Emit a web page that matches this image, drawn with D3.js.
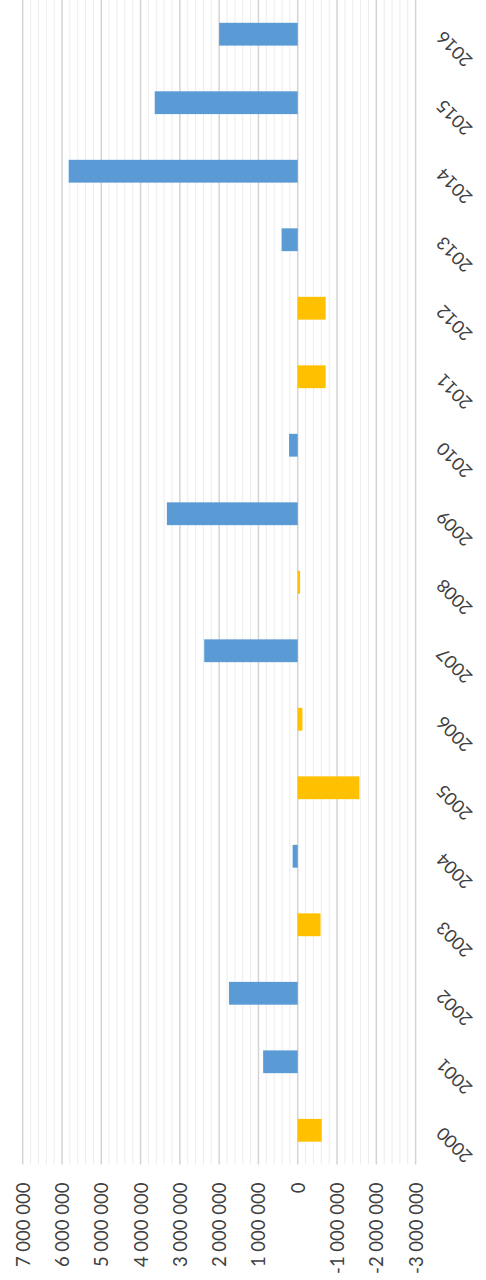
<!DOCTYPE html>
<html>
<head>
<meta charset="utf-8">
<script src="https://cdn.jsdelivr.net/npm/d3@7"></script>
<style>
  html, body { margin: 0; padding: 0; background: #fff; }
  svg { display: block; }
  text { font-family: Lato, "Open Sans", sans-serif; fill: #404040; }
</style>
</head>
<body>
<div id="chart"></div>
<script>
// Yearly values, 2000–2016 (positive: blue, negative: yellow)
const years = ["2000","2001","2002","2003","2004","2005","2006","2007","2008",
               "2009","2010","2011","2012","2013","2014","2015","2016"];
const values = [-610000, 880000, 1750000, -580000, 130000, -1570000, -120000, 2380000, -60000,
                3330000, 220000, -710000, -710000, 410000, 5830000, 3640000, 2000000];
const valueTicks = [7000000, 6000000, 5000000, 4000000, 3000000, 2000000, 1000000, 0,
                    -1000000, -2000000, -3000000];

const W = 486, H = 1280;
const plot = { left: 22.7, right: 415.6, top: 0, bottom: 1164.5 };

const svg = d3.select("#chart").append("svg")
  .attr("width", W).attr("height", H);

// value axis runs horizontally, largest value on the left
const x = d3.scaleLinear()
  .domain([7000000, -3000000])
  .range([plot.left, plot.right]);

// categories run top to bottom, latest year first
const y = d3.scaleBand()
  .domain(years.slice().reverse())
  .range([plot.top, plot.bottom])
  .paddingInner(0.667)
  .paddingOuter(0.333);

// thousands separated by spaces, plain hyphen for negatives
const fmt = v => d3.format(",")(v).replace(/,/g, " ").replace("\u2212", "-");

// minor gridlines every 200 000
const minor = d3.range(-3000000, 7000001, 200000).filter(v => v % 1000000 !== 0);
svg.append("g").selectAll("line").data(minor).join("line")
  .attr("x1", d => x(d)).attr("x2", d => x(d))
  .attr("y1", plot.top).attr("y2", plot.bottom)
  .attr("stroke", "#ececec").attr("stroke-width", 1);

// major gridlines
svg.append("g").selectAll("line").data(valueTicks).join("line")
  .attr("x1", d => x(d)).attr("x2", d => x(d))
  .attr("y1", plot.top).attr("y2", plot.bottom)
  .attr("stroke", "#d4d4d4").attr("stroke-width", 1.5);

// bars
svg.append("g").selectAll("rect").data(years.map((yr, i) => ({ yr, v: values[i] })))
  .join("rect")
  .attr("x", d => Math.min(x(d.v), x(0)))
  .attr("width", d => Math.abs(x(d.v) - x(0)))
  .attr("y", d => y(d.yr))
  .attr("height", y.bandwidth())
  .attr("fill", d => d.v >= 0 ? "#5B9BD5" : "#FFC000");

// value axis labels (rotated, reading upward)
const xAxis = d3.axisBottom(x).tickValues(valueTicks).tickSize(0).tickFormat(fmt);
const gx = svg.append("g").attr("transform", `translate(0,${plot.bottom})`).call(xAxis);
gx.select(".domain").remove();
gx.selectAll("text")
  .attr("transform", "translate(0,18) rotate(-90)")
  .attr("x", 0).attr("y", 0).attr("dy", "0.35em")
  .attr("text-anchor", "end")
  .style("font-size", "18.5px")
  .style("font-family", "Lato, 'Open Sans', sans-serif")
  .style("fill", "#404040");

// year labels on the right, rotated
const yAxis = d3.axisRight(y).tickSize(0);
const gy = svg.append("g").attr("transform", `translate(${plot.right},0)`).call(yAxis);
gy.select(".domain").remove();
gy.selectAll("text")
  .attr("x", 0).attr("y", 0).attr("dy", "0.35em")
  .attr("transform", "translate(24,0) rotate(-135)")
  .attr("text-anchor", "end")
  .style("font-size", "18px")
  .style("font-family", "Lato, 'Open Sans', sans-serif")
  .style("fill", "#404040");
</script>
</body>
</html>
